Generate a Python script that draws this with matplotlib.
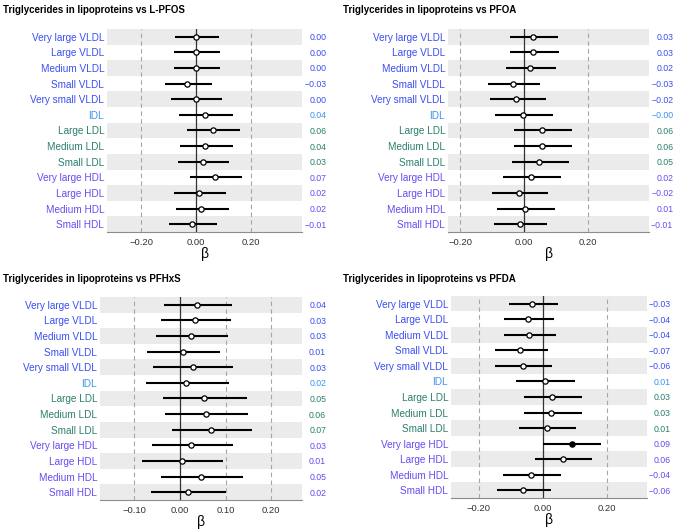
import numpy as np
import matplotlib.pyplot as plt

plt.rcParams['font.family'] = ['Liberation Sans', 'DejaVu Sans']

rows = ["Very large VLDL", "Large VLDL", "Medium VLDL", "Small VLDL", "Very small VLDL",
        "IDL", "Large LDL", "Medium LDL", "Small LDL",
        "Very large HDL", "Large HDL", "Medium HDL", "Small HDL"]
groups = ["VLDL"] * 5 + ["IDL"] + ["LDL"] * 3 + ["HDL"] * 4
group_colors = {"VLDL": "#3a4ef0", "IDL": "#3b93ee", "LDL": "#2c7f6d", "HDL": "#6a4af2"}

# L-PFOS
pfos_b = [0.000, 0.000, 0.000, -0.033, 0.000, 0.033, 0.061, 0.033, 0.023, 0.068, 0.012, 0.019, -0.015]
pfos_lo = [-0.076, -0.079, -0.079, -0.115, -0.091, -0.061, -0.033, -0.058, -0.067, -0.023, -0.079, -0.073, -0.099]
pfos_hi = [0.084, 0.086, 0.088, 0.056, 0.095, 0.133, 0.160, 0.132, 0.120, 0.165, 0.108, 0.118, 0.074]
pfos_lab = ["0.00", "0.00", "0.00", "-0.03", "0.00", "0.04", "0.06", "0.04", "0.03", "0.07", "0.02", "0.02", "-0.01"]

# PFOA
pfoa_b = [0.028, 0.028, 0.018, -0.034, -0.024, -0.004, 0.056, 0.055, 0.048, 0.023, -0.017, 0.004, -0.014]
pfoa_lo = [-0.043, -0.045, -0.057, -0.112, -0.107, -0.092, -0.031, -0.031, -0.037, -0.065, -0.101, -0.084, -0.094]
pfoa_hi = [0.107, 0.109, 0.100, 0.050, 0.067, 0.091, 0.150, 0.148, 0.139, 0.114, 0.074, 0.096, 0.070]
pfoa_lab = ["0.03", "0.03", "0.02", "-0.03", "-0.02", "-0.00", "0.06", "0.06", "0.05", "0.02", "-0.02", "0.01", "-0.01"]

# PFHxS
pfhxs_b = [0.038, 0.033, 0.025, 0.006, 0.028, 0.014, 0.053, 0.057, 0.069, 0.025, 0.004, 0.046, 0.017]
pfhxs_lo = [-0.036, -0.042, -0.052, -0.073, -0.059, -0.075, -0.037, -0.032, -0.017, -0.062, -0.082, -0.042, -0.063]
pfhxs_hi = [0.115, 0.112, 0.105, 0.088, 0.117, 0.108, 0.146, 0.148, 0.158, 0.116, 0.094, 0.138, 0.101]
pfhxs_lab = ["0.04", "0.03", "0.03", "0.01", "0.03", "0.02", "0.05", "0.06", "0.07", "0.03", "0.01", "0.05", "0.02"]

# PFDA
pfda_b = [-0.033, -0.046, -0.044, -0.070, -0.061, 0.006, 0.029, 0.027, 0.014, 0.090, 0.063, -0.038, -0.061]
pfda_lo = [-0.107, -0.121, -0.121, -0.149, -0.149, -0.083, -0.060, -0.060, -0.073, 0.002, -0.024, -0.126, -0.142]
pfda_hi = [0.047, 0.036, 0.040, 0.015, 0.030, 0.102, 0.124, 0.122, 0.104, 0.182, 0.154, 0.056, 0.025]
pfda_lab = ["-0.03", "-0.04", "-0.04", "-0.07", "-0.06", "0.01", "0.03", "0.03", "0.01", "0.09", "0.06", "-0.04", "-0.06"]

panels = [
    ("Triglycerides in lipoproteins vs L-PFOS", pfos_b, pfos_lo, pfos_hi, pfos_lab,
     [0.159, 0.5614, 0.290, 0.384], (-0.324, 0.385), [-0.2, 0.0, 0.2], [-0.2, 0.2]),
    ("Triglycerides in lipoproteins vs PFOA", pfoa_b, pfoa_lo, pfoa_hi, pfoa_lab,
     [0.6657, 0.5614, 0.2987, 0.384], (-0.2375, 0.39), [-0.2, 0.0, 0.2], [-0.2, 0.2]),
    ("Triglycerides in lipoproteins vs PFHxS", pfhxs_b, pfhxs_lo, pfhxs_hi, pfhxs_lab,
     [0.1486, 0.0548, 0.300, 0.384], (-0.175, 0.267), [-0.1, 0.0, 0.1, 0.2], [-0.1, 0.1, 0.2]),
    ("Triglycerides in lipoproteins vs PFDA", pfda_b, pfda_lo, pfda_hi, pfda_lab,
     [0.670, 0.0586, 0.291, 0.382], (-0.2875, 0.325), [-0.2, 0.0, 0.2], [-0.2, 0.2]),
]
title_pos = [(0.004, 0.981), (0.509, 0.981), (0.004, 0.472), (0.509, 0.472)]

fig = plt.figure(figsize=(6.73, 5.29), dpi=100)

for (title, b, lo, hi, lab, pos, xlim, xticks, dashes), tp in zip(panels, title_pos):
    ax = fig.add_axes(pos)
    n = len(rows)
    y = np.arange(n)
    for i in range(0, n, 2):
        ax.axhspan(i - 0.5, i + 0.5, color="#ebebeb", lw=0, zorder=0)
    for d in dashes:
        ax.axvline(d, color="#a6a6a6", lw=0.8, ls=(0, (4, 3)), zorder=1)
    ax.axvline(0, color="#333333", lw=0.9, zorder=2)
    ax.hlines(y, lo, hi, color="black", lw=1.5, zorder=3)
    for i in range(n):
        sig = lo[i] > 0 or hi[i] < 0
        ax.plot(b[i], i, "o", ms=3.8, mec="black", mew=0.9,
                mfc="black" if sig else "white", zorder=4)
        ax.annotate(lab[i].replace("-", "\u2212"), xy=(1, i), xycoords=("axes fraction", "data"),
                    xytext=(17.5, 0), textcoords="offset points", ha="right", va="center_baseline",
                    fontsize=6.3, color=group_colors[groups[i]])
    ax.set_xlim(*xlim)
    ax.set_ylim(n - 0.5, -0.5)
    ax.set_yticks(y)
    ax.set_yticklabels(rows, fontsize=7.2)
    for t, g in zip(ax.get_yticklabels(), groups):
        t.set_color(group_colors[g])
    ax.set_xticks(xticks)
    ax.set_xticklabels([f"{v:.2f}".replace("-", "\u2212") for v in xticks], fontsize=6.8, color="#333333")
    ax.tick_params(axis="both", length=0, pad=2)
    ax.tick_params(axis="x", pad=4)
    ax.set_xlabel("\u03b2", fontsize=10, labelpad=0.5)
    for s in ["top", "left", "right"]:
        ax.spines[s].set_visible(False)
    ax.spines["bottom"].set_color("#8c8c8c")
    ax.spines["bottom"].set_linewidth(0.8)
    fig.text(tp[0], tp[1], title, fontsize=7, fontweight="bold", ha="left", va="center")

fig.savefig("out.png", dpi=100)
